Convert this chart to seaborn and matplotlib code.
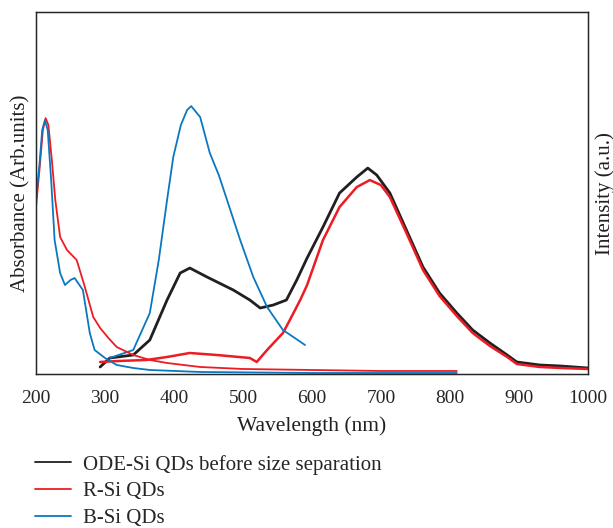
import matplotlib
matplotlib.use('Agg')
import matplotlib.pyplot as plt
import seaborn as sns

# R-Si QDs absorbance
r_abs_wl = [200, 205, 210, 214, 218, 223, 228, 235, 245, 259, 270, 283, 293, 305, 317, 341, 365, 390, 438, 500, 600, 700, 810]
r_abs_val = [167, 204, 244, 256, 249, 214, 174, 137, 124, 114, 89, 57, 46, 36, 27, 19, 14, 11, 7, 5, 4, 3, 3]

# B-Si QDs absorbance
b_abs_wl = [200, 205, 209, 213, 217, 222, 227, 235, 242, 250, 256, 263, 268, 278, 285, 300, 317, 341, 365, 438, 600, 810]
b_abs_val = [174, 209, 244, 254, 244, 194, 134, 101, 89, 94, 96, 89, 84, 41, 24, 16, 9, 6, 4, 2, 1, 1]

# B-Si QDs emission
b_pl_wl = [307, 341, 365, 378, 390, 399, 410, 419, 425, 438, 452, 465, 477, 496, 515, 535, 558, 573, 590]
b_pl_val = [16, 24, 61, 114, 174, 217, 249, 264, 268, 257, 221, 199, 174, 134, 97, 67, 44, 37, 29]

# ODE-Si QDs emission (before size separation)
ode_pl_wl = [293, 307, 341, 365, 390, 409, 423, 448, 486, 510, 525, 544, 563, 578, 593, 616, 640, 665, 681, 694,
             713, 737, 761, 785, 810, 833, 858, 883, 897, 930, 960, 1000]
ode_pl_val = [7, 16, 19, 34, 74, 101, 106, 97, 84, 74, 66, 69, 74, 94, 116, 147, 181, 197, 206, 199,
              181, 144, 107, 81, 61, 44, 31, 19, 12, 9, 8, 6]

# R-Si QDs emission
r_pl_wl = [293, 320, 360, 390, 423, 462, 510, 520, 535, 558, 568, 583, 593, 616, 640, 665, 684, 700, 713, 737,
           761, 785, 810, 833, 858, 883, 897, 930, 960, 1000]
r_pl_val = [12, 13, 14, 17, 21, 19, 16, 12, 24, 41, 54, 74, 89, 134, 167, 187, 194, 189, 177, 141,
            104, 78, 58, 41, 28, 17, 10, 7, 6, 5]

black = '#231f20'
red = '#ed1c24'
blue = '#0a78c0'

sns.set_style('white')
plt.rcParams['font.family'] = ['Liberation Serif', 'DejaVu Serif']

fig = plt.figure(figsize=(6.13, 5.28), dpi=100)
ax = fig.add_axes([0.0587, 0.2917, 0.9003, 0.6853])

sns.lineplot(x=ode_pl_wl, y=ode_pl_val, color=black, lw=2.0, ax=ax, label='ODE-Si QDs before size separation')
sns.lineplot(x=r_pl_wl, y=r_pl_val, color=red, lw=1.8, ax=ax, label='R-Si QDs')
sns.lineplot(x=b_pl_wl, y=b_pl_val, color=blue, lw=1.3, ax=ax, label='B-Si QDs')
sns.lineplot(x=r_abs_wl, y=r_abs_val, color=red, lw=1.3, ax=ax)
sns.lineplot(x=b_abs_wl, y=b_abs_val, color=blue, lw=1.3, ax=ax)

ax.set_xlim(200, 1000)
ax.set_ylim(0, 362)
ax.set_xticks(range(200, 1001, 100))
ax.set_yticks([])
ax.tick_params(axis='x', direction='inout', length=9, width=1.5, color=black, labelsize=14, pad=7)
for s in ax.spines.values():
    s.set_color('#222222')
    s.set_linewidth(1.0)
ax.set_xlabel('Wavelength (nm)', fontsize=15.5, color=black, labelpad=7)
ax.set_ylabel('Absorbance (Arb.units)', fontsize=15, color=black, labelpad=4)

ax2 = ax.twinx()
ax2.set_yticks([])
ax2.set_ylabel('Intensity (a.u.)', fontsize=15, color=black, labelpad=5)

leg = ax.legend(loc='upper left', bbox_to_anchor=(0.057, 0.139), bbox_transform=fig.transFigure,
                frameon=False, fontsize=15, handlelength=1.75, handletextpad=0.55,
                labelspacing=0.34, borderpad=0, borderaxespad=0)
for line in leg.get_lines():
    line.set_linewidth(1.3)

fig.savefig('out.png', dpi=100)
